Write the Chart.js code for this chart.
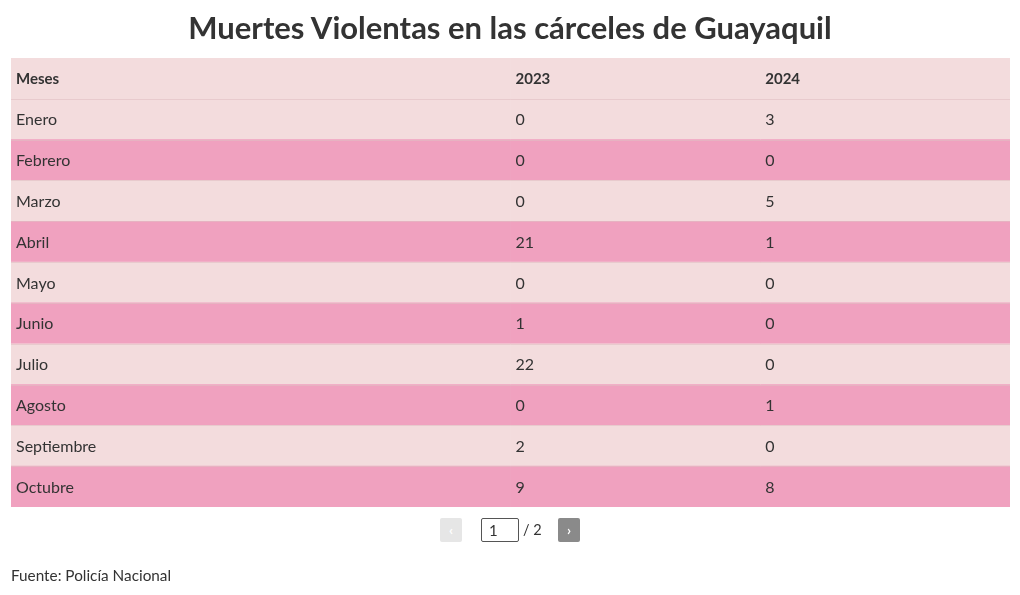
<!DOCTYPE html>
<html><head><meta charset="utf-8">
<script src="https://cdn.jsdelivr.net/npm/chart.js@4/dist/chart.umd.min.js"></script>
<style>
html,body{margin:0;padding:0;background:#fff;}
#wrap{position:relative;width:1020px;height:595px;font-family:Lato,"Open Sans",sans-serif;color:#333;}
canvas{position:absolute;left:0;top:0;}
#title{position:absolute;left:0;top:7px;width:1020px;text-align:center;font-weight:700;font-size:31px;color:#333;line-height:40px;}
#foot{position:absolute;left:11px;top:566px;font-size:15.3px;color:#333;}
.btn{position:absolute;top:518px;width:22px;height:24px;border-radius:2px;color:#fff;font-size:14px;text-align:center;line-height:24px;font-weight:700;}
#prev{left:440px;background:#e6e6e6;}
#next{left:558px;background:#8a8a8a;}
#page{position:absolute;left:481px;top:518px;width:36px;height:22px;border:1px solid #555;border-radius:2px;font-size:15px;line-height:22px;padding-left:0;}
#page span{margin-left:7px;}
#of{position:absolute;left:523px;top:519px;font-size:14.5px;line-height:22px;}
</style></head>
<body><div id="wrap">
<canvas id="c" width="1020" height="595"></canvas>
<div id="title">Muertes Violentas en las cárceles de Guayaquil</div>
<div class="btn" id="prev">‹</div>
<div id="page"><span>1</span></div>
<div id="of">/ 2</div>
<div class="btn" id="next">›</div>
<div id="foot">Fuente: Policía Nacional</div>
</div>
<script>
const headers = ['Meses', '2023', '2024'];
const months = ['Enero','Febrero','Marzo','Abril','Mayo','Junio','Julio','Agosto','Septiembre','Octubre'];
const v2023 = [0,0,0,21,0,1,22,0,2,9];
const v2024 = [3,0,5,1,0,0,0,1,0,8];
const colWidths = [2,1,1];

const rows = ['header'].concat(months);
const light = '#f3dcdd', dark = '#f0a1bf';
const rowColors = rows.map((r,i)=> (i>0 && i%2===0) ? dark : light);

function cellText(col,i){
  if(i===0) return headers[col];
  if(col===0) return months[i-1];
  if(col===1) return String(v2023[i-1]);
  return String(v2024[i-1]);
}

const textPlugin = {
  id:'cellText',
  afterDatasetsDraw(chart){
    const ctx = chart.ctx;
    const yScale = chart.scales.y;
    const area = chart.chartArea;
    ctx.save();
    ctx.strokeStyle = 'rgba(225,190,195,0.6)';
    ctx.lineWidth = 1;
    for(let i=1;i<rows.length;i++){
      const yb = Math.round((yScale.getPixelForValue(i-1)+yScale.getPixelForValue(i))/2)+0.5;
      ctx.beginPath();ctx.moveTo(area.left,yb);ctx.lineTo(area.right,yb);ctx.stroke();
    }
    ctx.fillStyle = '#333';
    ctx.textBaseline = 'middle';
    chart.data.datasets.forEach((ds,col)=>{
      const meta = chart.getDatasetMeta(col);
      meta.data.forEach((bar,i)=>{
        ctx.font = (i===0 ? '700 15px ' : '16px ') + 'Lato, "Open Sans", sans-serif';
        ctx.fillText(cellText(col,i), Math.min(bar.base,bar.x)+5, bar.y+1);
      });
    });
    ctx.restore();
  }
};

new Chart(document.getElementById('c'),{
  type:'bar',
  data:{
    labels: rows,
    datasets: colWidths.map((w,col)=>({
      label: headers[col],
      data: rows.map(()=>w),
      backgroundColor: rowColors,
      borderWidth:0,
      barPercentage:1,
      categoryPercentage:1
    }))
  },
  options:{
    indexAxis:'y',
    responsive:false,
    animation:false,
    layout:{padding:{top:58,left:11,right:10,bottom:88}},
    scales:{
      x:{stacked:true,min:0,max:4,display:false},
      y:{stacked:true,display:false}
    },
    plugins:{legend:{display:false},tooltip:{enabled:false},title:{display:false}}
  },
  plugins:[textPlugin]
});
</script>
</body></html>
